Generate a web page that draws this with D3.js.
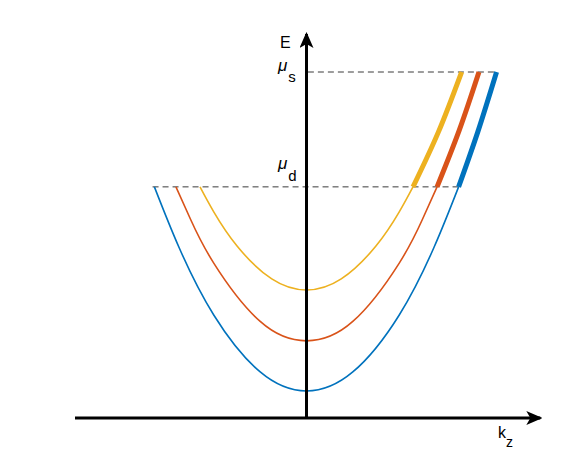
<!DOCTYPE html>
<html>
<head>
<meta charset="utf-8">
<script src="https://cdn.jsdelivr.net/npm/d3@7"></script>
<style>
  body { margin: 0; background: #fff; }
  text { font-family: "Liberation Sans", Arial, sans-serif; fill: #000; }
</style>
</head>
<body>
<script>
// band names and colours
var bands = ['band1', 'band2', 'band3'];
var colors = ['#0072BD', '#D95319', '#EDB120'];

// thin part of each band, below mu_d (kz, E)
var kThin = [
  [-0.657, -0.55, -0.4, -0.2, 0, 0.2, 0.4, 0.55, 0.657],
  [-0.564, -0.5, -0.4, -0.2, 0, 0.2, 0.4, 0.5, 0.564],
  [-0.46, -0.4, -0.3, -0.15, 0, 0.15, 0.3, 0.4, 0.46]
];
var eThin = [
  [0.668, 0.492, 0.297, 0.133, 0.078, 0.133, 0.297, 0.492, 0.668],
  [0.668, 0.573, 0.447, 0.279, 0.223, 0.279, 0.447, 0.573, 0.668],
  [0.668, 0.595, 0.497, 0.402, 0.37, 0.402, 0.497, 0.595, 0.668]
];
// thick part between mu_d and mu_s
var kThick = [
  [0.657, 0.74, 0.821],
  [0.564, 0.66, 0.745],
  [0.46, 0.57, 0.67]
];
var eThick = [
  [0.668, 0.827, 1.0],
  [0.668, 0.832, 1.0],
  [0.668, 0.827, 1.0]
];

// chemical potentials
var muNames = ['s', 'd'];
var muValues = [1.0, 0.668];
var muFrom = [0.006, -0.665];
var muTo = [0.825, 0.663];

var width = 588, height = 471;

var x = d3.scaleLinear().domain([-1, 1]).range([75, 538]);
var y = d3.scaleLinear().domain([0, 1]).range([418, 72]);

var svg = d3.select('body').append('svg')
  .attr('width', width)
  .attr('height', height);

var defs = svg.append('defs');
defs.append('marker')
  .attr('id', 'arrow')
  .attr('viewBox', '0 0 16 14')
  .attr('refX', 14)
  .attr('refY', 7)
  .attr('markerWidth', 16)
  .attr('markerHeight', 14)
  .attr('markerUnits', 'userSpaceOnUse')
  .attr('orient', 'auto')
  .append('path')
  .attr('d', 'M0,0 L16,7 L0,14 L4,7 Z')
  .attr('fill', '#000');

var line = d3.line()
  .x(function(d) { return x(d[0]); })
  .y(function(d) { return y(d[1]); })
  .curve(d3.curveNatural);

// dashed levels
muValues.forEach(function(v, i) {
  svg.append('line')
    .attr('x1', x(muFrom[i]))
    .attr('x2', x(muTo[i]))
    .attr('y1', y(v))
    .attr('y2', y(v))
    .attr('stroke', '#3a3a3a')
    .attr('stroke-width', 1)
    .attr('stroke-dasharray', '6,4');
});

// bands
bands.forEach(function(b, i) {
  var thin = kThin[i].map(function(k, j) { return [k, eThin[i][j]]; });
  var thick = kThick[i].map(function(k, j) { return [k, eThick[i][j]]; });
  svg.append('path')
    .attr('class', b)
    .attr('d', line(thin))
    .attr('fill', 'none')
    .attr('stroke', colors[i])
    .attr('stroke-width', 1.6);
  svg.append('path')
    .attr('class', b)
    .attr('d', line(thick))
    .attr('fill', 'none')
    .attr('stroke', colors[i])
    .attr('stroke-width', 5);
});

// axes
svg.append('line')
  .attr('x1', x(-1)).attr('x2', x(1.01))
  .attr('y1', y(0)).attr('y2', y(0))
  .attr('stroke', '#000')
  .attr('stroke-width', 3)
  .attr('marker-end', 'url(#arrow)');

svg.append('line')
  .attr('x1', x(0)).attr('x2', x(0))
  .attr('y1', y(0) + 1).attr('y2', y(1.11))
  .attr('stroke', '#000')
  .attr('stroke-width', 3)
  .attr('marker-end', 'url(#arrow)');

// labels
svg.append('text')
  .attr('x', 280).attr('y', 48)
  .attr('font-size', 16)
  .text('E');

var kz = svg.append('text')
  .attr('x', 498).attr('y', 438)
  .attr('font-size', 16);
kz.append('tspan').text('k');
kz.append('tspan').attr('dy', 9).attr('font-size', 14).text('z');

// mu labels: s sits across its line, d sits above it
var muLift = [-1, -18];
var muSub = [11, 12];
muValues.forEach(function(v, i) {
  var t = svg.append('text')
    .attr('x', 278)
    .attr('y', y(v) + muLift[i])
    .attr('font-size', 17);
  t.append('tspan').attr('font-style', 'italic').text('\u03bc');
  t.append('tspan').attr('dx', 1).attr('dy', muSub[i]).attr('font-size', 15).text(muNames[i]);
});
</script>
</body>
</html>
